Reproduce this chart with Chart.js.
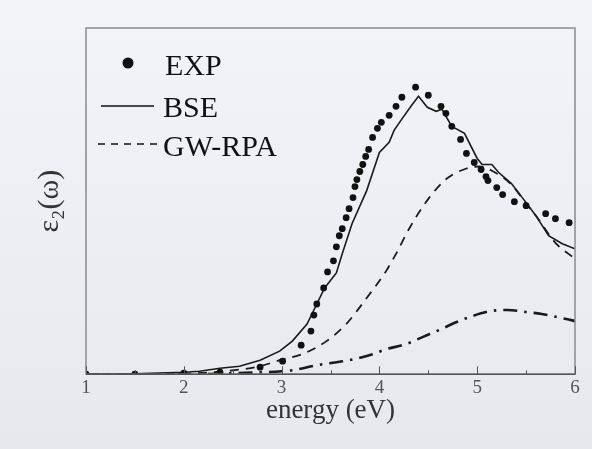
<!DOCTYPE html>
<html>
<head>
    <meta charset="utf-8" />
    <title>eps2 spectrum</title>
    <script src="https://cdn.jsdelivr.net/npm/chart.js/dist/chart.umd.js"></script>
    <style>
        html, body { margin: 0; padding: 0; }
        body {
            width: 592px; height: 449px; overflow: hidden;
            background: linear-gradient(180deg, #f3f4f8 0%, #eceef3 55%, #e6e8ee 100%);
        }
        #myChart { display: block; }
    </style>
</head>
<body>
<canvas id="myChart" width="592" height="449"></canvas>
<script>
    // energy (eV) / eps2 in arbitrary units
    var expE = [1.0, 1.5, 2.0, 2.37, 2.78, 3.01, 3.2, 3.30, 3.33, 3.36, 3.43, 3.47, 3.53, 3.56, 3.59, 3.62, 3.66, 3.69, 3.73,
        3.75, 3.77, 3.80, 3.83, 3.86, 3.89, 3.93, 3.98, 4.02, 4.10, 4.17, 4.23, 4.37, 4.50, 4.63, 4.68, 4.74, 4.83, 4.89,
        4.97, 5.04, 5.09, 5.11, 5.20, 5.26, 5.38, 5.50, 5.70, 5.80, 5.94];
    var expVal = [0, 0, 1, 2, 7, 13, 29, 43, 59, 70, 86, 102, 113, 127, 138, 145, 156, 165, 176,
        187, 194, 202, 209, 217, 224, 236, 245, 251, 258, 267, 276, 286, 278, 267, 260, 247, 234, 220,
        211, 204, 197, 193, 186, 179, 172, 168, 160, 155, 151];

    var bseE = [1.0, 1.5, 2.0, 2.16, 2.37, 2.57, 2.78, 2.98, 3.11, 3.26, 3.36, 3.44, 3.56, 3.62, 3.72, 3.87, 4.0, 4.10,
        4.15, 4.22, 4.33, 4.40, 4.49, 4.58, 4.64, 4.74, 4.87, 5.00, 5.05, 5.15, 5.22, 5.35, 5.50, 5.60, 5.73, 5.87, 6.0];
    var bseVal = [0, 0.5, 2, 3, 6, 8, 14, 23, 33, 50, 70, 86, 101, 120, 150, 183, 221, 231,
        243, 253, 268, 277, 266, 262, 264, 247, 240, 215, 209, 209, 201, 190, 171, 158, 138, 130, 125];

    var gwE = [1.0, 2.0, 2.3, 2.6, 2.78, 2.98, 3.21, 3.46, 3.66, 3.87, 4.07, 4.17, 4.31, 4.51, 4.69, 4.89, 5.02, 5.2,
        5.36, 5.5, 5.6, 5.8, 6.0];
    var gwVal = [0, 0.5, 2, 5, 8, 14, 20, 33, 50, 76, 103, 120, 146, 176, 195, 205, 207, 200,
        188, 170, 158, 131, 115];

    var ddE = [1.0, 2.0, 2.5, 3.0, 3.11, 3.36, 3.69, 3.93, 4.07, 4.27, 4.44, 4.61, 4.79, 4.95, 5.14, 5.31, 5.50, 5.66,
        5.91, 6.0];
    var ddVal = [0, 0, 1, 3, 4, 9, 14, 20, 25, 30, 37, 44, 52, 58, 63, 64, 62, 60, 55, 53];

    var xTicks = [1, 2, 3, 4, 5, 6];
    var xMinorTicks = [1.5, 2.5, 3.5, 4.5, 5.5];

    function pts(xs, ys) {
        return xs.map(function (x, i) { return { x: x, y: ys[i] }; });
    }

    var serif = '"Liberation Serif", "DejaVu Serif", serif';

    // frame, inward ticks and the legend in the upper left
    var decor = {
        id: 'decor',
        afterDatasetsDraw: function (chart) {
            var ctx = chart.ctx, a = chart.chartArea, xs = chart.scales.x;
            ctx.save();
            ctx.strokeStyle = '#8a8a8e';
            ctx.lineWidth = 1.5;
            ctx.strokeRect(a.left, a.top, a.right - a.left, a.bottom - a.top);
            ctx.strokeStyle = '#555';
            ctx.beginPath(); ctx.moveTo(a.left, a.bottom); ctx.lineTo(a.right, a.bottom); ctx.stroke();
            ctx.lineWidth = 1;
            xTicks.forEach(function (v) {
                var px = Math.round(xs.getPixelForValue(v)) + 0.5;
                ctx.beginPath(); ctx.moveTo(px, a.bottom); ctx.lineTo(px, a.bottom - 8); ctx.stroke();
            });
            xMinorTicks.forEach(function (v) {
                var px = Math.round(xs.getPixelForValue(v)) + 0.5;
                ctx.beginPath(); ctx.moveTo(px, a.bottom); ctx.lineTo(px, a.bottom - 4); ctx.stroke();
            });

            var ds = chart.data.datasets;
            ctx.fillStyle = '#111';
            ctx.font = '30px ' + serif;
            ctx.textBaseline = 'alphabetic';
            // EXP
            ctx.beginPath(); ctx.arc(128, 63, 5.5, 0, Math.PI * 2); ctx.fill();
            ctx.fillText(ds[0].label, 165, 75);
            // BSE
            ctx.strokeStyle = '#111'; ctx.lineWidth = 1.6;
            ctx.beginPath(); ctx.moveTo(101, 106); ctx.lineTo(154, 106); ctx.stroke();
            ctx.fillText(ds[1].label, 163, 117);
            // GW-RPA
            ctx.setLineDash([7, 6]);
            ctx.beginPath(); ctx.moveTo(98, 144); ctx.lineTo(158, 144); ctx.stroke();
            ctx.setLineDash([]);
            ctx.fillText(ds[2].label, 163, 156);
            ctx.restore();
        }
    };

    new Chart(document.getElementById('myChart'), {
        type: 'line',
        data: {
            datasets: [{
                label: 'EXP',
                data: pts(expE, expVal),
                showLine: false,
                pointRadius: 3.4,
                pointBackgroundColor: '#111',
                pointBorderWidth: 0
            }, {
                label: 'BSE',
                data: pts(bseE, bseVal),
                borderColor: '#1a1a1a',
                borderWidth: 1.6,
                pointRadius: 0,
                tension: 0
            }, {
                label: 'GW-RPA',
                data: pts(gwE, gwVal),
                borderColor: '#1a1a1a',
                borderWidth: 1.8,
                borderDash: [9, 7],
                pointRadius: 0,
                cubicInterpolationMode: 'monotone'
            }, {
                label: 'other',
                data: pts(ddE, ddVal),
                borderColor: '#1a1a1a',
                borderWidth: 2.6,
                borderDash: [14, 7, 2.5, 7],
                pointRadius: 0,
                cubicInterpolationMode: 'monotone'
            }]
        },
        options: {
            responsive: false,
            animation: false,
            devicePixelRatio: 1,
            layout: { padding: { left: 0, right: 17, top: 28, bottom: 38 } },
            plugins: { legend: { display: false }, tooltip: { enabled: false } },
            scales: {
                x: {
                    type: 'linear',
                    min: 1, max: 6,
                    afterBuildTicks: function (axis) { axis.ticks = xTicks.map(function (v) { return { value: v }; }); },
                    grid: { display: false, drawTicks: false },
                    border: { display: false },
                    ticks: { padding: 4, color: '#555', font: { family: serif, size: 19, lineHeight: 1 } },
                    title: {
                        display: true, text: 'energy (eV)', color: '#333',
                        font: { family: serif, size: 27, lineHeight: 0.25 },
                        padding: { top: 6, bottom: -3 }
                    }
                },
                y: {
                    min: 0, max: 345,
                    grid: { display: false, drawTicks: false },
                    border: { display: false },
                    ticks: { display: false },
                    title: {
                        display: true, text: 'ε\u2082(ω)', color: '#333',
                        font: { family: serif, size: 30, lineHeight: 1.2 },
                        padding: { top: 32, bottom: 18 }
                    }
                }
            }
        },
        plugins: [decor]
    });
</script>
</body>
</html>
